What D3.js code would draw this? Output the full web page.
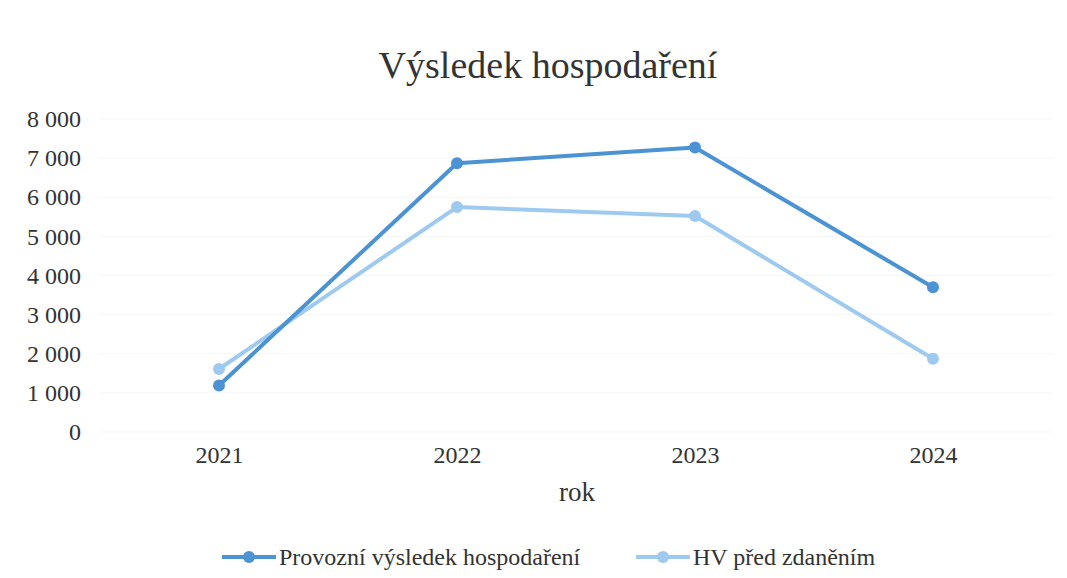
<!DOCTYPE html>
<html>
<head>
<meta charset="utf-8">
<script src="https://cdn.jsdelivr.net/npm/d3@7"></script>
<style>
  body { margin: 0; background: #fff; }
  text { font-family: "Liberation Serif", "DejaVu Serif", serif; fill: #333; }
</style>
</head>
<body>
<div id="chart"></div>
<script>
// data
var years = ["2021", "2022", "2023", "2024"];
var provozniHV = [1190, 6870, 7270, 3700];
var hvPredZdanenim = [1610, 5750, 5520, 1870];
var yTicks = [0, 1000, 2000, 3000, 4000, 5000, 6000, 7000, 8000];

var seriesNames = ["Provozní výsledek hospodaření", "HV před zdaněním"];
var seriesColors = ["#4b93d3", "#9ecaf0"];

var W = 1067, H = 578;
var margin = { top: 119, right: 15, bottom: 146, left: 100 };

var svg = d3.select("#chart").append("svg")
  .attr("width", W)
  .attr("height", H);

var x = d3.scalePoint()
  .domain(years)
  .range([margin.left, W - margin.right])
  .padding(0.5);

var y = d3.scaleLinear()
  .domain([0, 8000])
  .range([H - margin.bottom, margin.top]);

var fmt = function (v) {
  return d3.format(",")(v).replace(/,/g, " ");
};

// gridlines, almost gone in the scan
svg.append("g")
  .selectAll("line")
  .data(yTicks)
  .enter()
  .append("line")
  .attr("x1", margin.left)
  .attr("x2", W - margin.right)
  .attr("y1", function (d) { return y(d); })
  .attr("y2", function (d) { return y(d); })
  .attr("stroke", "#f6f6f6")
  .attr("stroke-width", 1);

// y axis (labels only)
var yAxis = svg.append("g")
  .attr("transform", "translate(" + 81 + ",0)")
  .call(d3.axisLeft(y).tickValues(yTicks).tickFormat(fmt).tickSize(0).tickPadding(0));
yAxis.select(".domain").remove();
yAxis.selectAll("text")
  .style("font-family", "Liberation Serif, serif")
  .style("font-size", "24px")
  .attr("fill", "#333");

// x axis (labels only)
var xAxis = svg.append("g")
  .attr("transform", "translate(0," + (H - margin.bottom) + ")")
  .call(d3.axisBottom(x).tickSize(0).tickPadding(14));
xAxis.select(".domain").remove();
xAxis.selectAll("text")
  .style("font-family", "Liberation Serif, serif")
  .style("font-size", "24px")
  .attr("fill", "#333");

// title
svg.append("text")
  .attr("x", 548)
  .attr("y", 78)
  .attr("text-anchor", "middle")
  .style("font-size", "38px")
  .text("Výsledek hospodaření");

// x axis title
svg.append("text")
  .attr("x", 577)
  .attr("y", 501)
  .attr("text-anchor", "middle")
  .style("font-size", "27px")
  .text("rok");

var allSeries = [provozniHV, hvPredZdanenim];

var line = d3.line()
  .x(function (d, i) { return x(years[i]); })
  .y(function (d) { return y(d); });

// draw light series first so the dark one sits on top
[1, 0].forEach(function (s) {
  var g = svg.append("g");
  g.append("path")
    .datum(allSeries[s])
    .attr("fill", "none")
    .attr("stroke", seriesColors[s])
    .attr("stroke-width", 4)
    .attr("stroke-linejoin", "round")
    .attr("d", line);
  g.selectAll("circle")
    .data(allSeries[s])
    .enter()
    .append("circle")
    .attr("cx", function (d, i) { return x(years[i]); })
    .attr("cy", function (d) { return y(d); })
    .attr("r", 6)
    .attr("fill", seriesColors[s]);
});

// legend
var legendX = [222, 636];
var legend = svg.append("g");
seriesNames.forEach(function (name, s) {
  var lg = legend.append("g").attr("transform", "translate(" + legendX[s] + ",557)");
  lg.append("line")
    .attr("x1", 0).attr("x2", 54)
    .attr("stroke", seriesColors[s])
    .attr("stroke-width", 4);
  lg.append("circle")
    .attr("cx", 27).attr("r", 6)
    .attr("fill", seriesColors[s]);
  lg.append("text")
    .attr("x", 57)
    .attr("dy", "0.35em")
    .style("font-size", "24px")
    .text(name);
});
</script>
</body>
</html>
